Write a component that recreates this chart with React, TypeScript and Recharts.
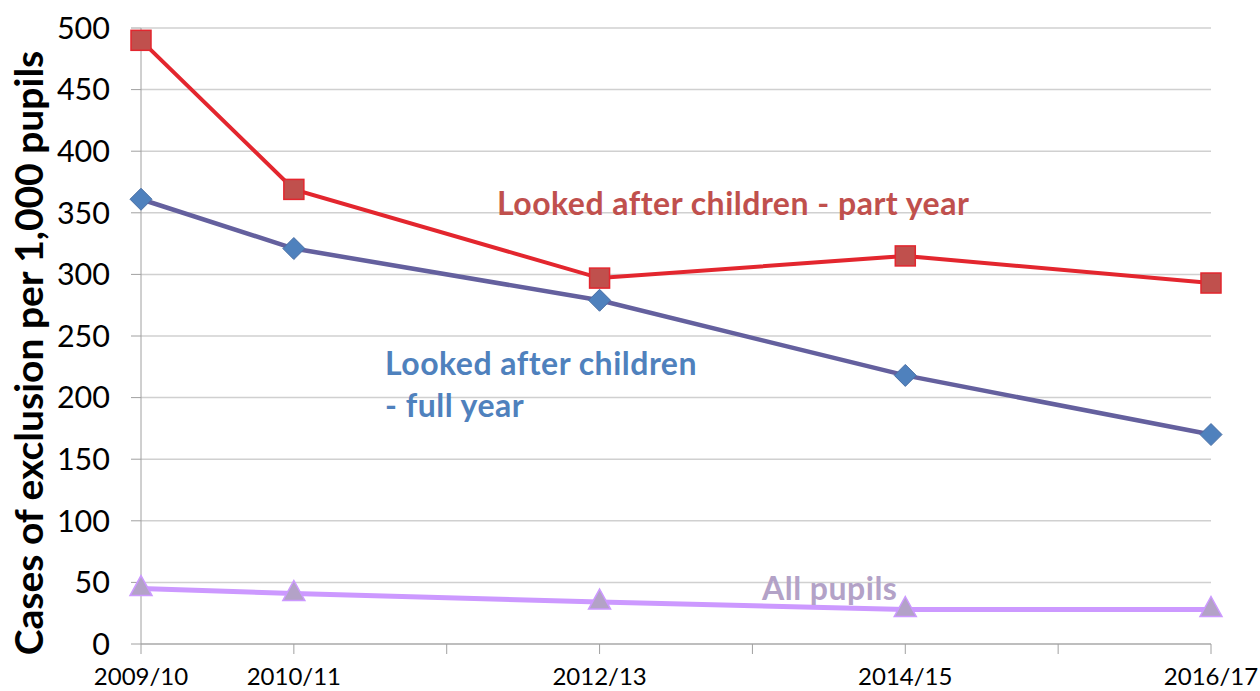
import React from 'react';
import { LineChart, Line, XAxis, YAxis, CartesianGrid } from 'recharts';

// school years on the x axis (only some have data)
const years = ['2009/10', '2010/11', '2011/12', '2012/13', '2013/14', '2014/15', '2015/16', '2016/17'];
const shownYears = ['2009/10', '2010/11', '2012/13', '2014/15', '2016/17'];

// cases of exclusion per 1,000 pupils
const partYear = [490, 369, null, 297, null, 315, null, 293];
const fullYear = [361, 321, null, 279, null, 218, null, 170];
const allPupils = [45, 41, null, 34, null, 28, null, 28];

const yTicks = [0, 50, 100, 150, 200, 250, 300, 350, 400, 450, 500];

const data = years.map((year, i) => ({
  year,
  partYear: partYear[i],
  fullYear: fullYear[i],
  allPupils: allPupils[i]
}));

const FONT = 'Lato, "Open Sans", sans-serif';

const SquareDot = (props: any) => {
  const { cx, cy, index } = props;
  if (cx == null || cy == null || props.value == null) return <g key={`sq-${index}`} />;
  return <rect key={`sq-${index}`} x={cx - 10} y={cy - 10} width={20} height={20} fill="#c0504d" stroke="#e3262e" strokeWidth={1.5} />;
};

const DiamondDot = (props: any) => {
  const { cx, cy, index } = props;
  if (cx == null || cy == null || props.value == null) return <g key={`dm-${index}`} />;
  const r = 11;
  return (
    <polygon
      key={`dm-${index}`}
      points={`${cx},${cy - r} ${cx + r},${cy} ${cx},${cy + r} ${cx - r},${cy}`}
      fill="#4f81bd"
      stroke="#4a6fa5"
      strokeWidth={1}
    />
  );
};

const TriangleDot = (props: any) => {
  const { cx, cy, index } = props;
  if (cx == null || cy == null || props.value == null) return <g key={`tr-${index}`} />;
  return (
    <polygon
      key={`tr-${index}`}
      points={`${cx},${cy - 13} ${cx + 11},${cy + 7} ${cx - 11},${cy + 7}`}
      fill="#b3a2c7"
      stroke="#cc99ff"
      strokeWidth={1.5}
    />
  );
};

const YTitle = (props: any) => {
  const vb = props.viewBox;
  const x = 43;
  const y = vb.y + vb.height / 2 + 17;
  return (
    <text
      x={x}
      y={y}
      transform={`rotate(-90, ${x}, ${y})`}
      textAnchor="middle"
      fontFamily={FONT}
      fontWeight="bold"
      fontSize={39}
      fill="#000"
    >
      Cases of exclusion per 1,000 pupils
    </text>
  );
};

export default function App() {
  return (
    <div style={{ position: 'relative', width: 1260, height: 691, background: '#fff' }}>
      <style>{`body{margin:0}`}</style>
      <LineChart
        width={1260}
        height={691}
        data={data}
        margin={{ top: 28, right: 49, left: 0, bottom: 7 }}
      >
        <CartesianGrid horizontal vertical={false} stroke="#d0d0d0" strokeWidth={1.5} />
        <XAxis
          dataKey="year"
          interval={0}
          height={40}
          tickSize={10}
          tickMargin={14}
          stroke="#a0a0a0"
          tickLine={{ stroke: '#a0a0a0' }}
          tick={{ fill: '#000', fontSize: 24, fontFamily: FONT }}
          tickFormatter={(v: string) => (shownYears.includes(v) ? v : '')}
        />
        <YAxis
          width={141}
          domain={[0, 500]}
          ticks={yTicks}
          interval={0}
          tickSize={10}
          tickMargin={21}
          stroke="#a0a0a0"
          tickLine={{ stroke: '#a0a0a0' }}
          tick={{ fill: '#000', fontSize: 30.5, fontFamily: FONT }}
          label={{ content: YTitle }}
        />
        <Line
          dataKey="fullYear"
          stroke="#64609e"
          strokeWidth={4.5}
          connectNulls
          dot={DiamondDot}
          isAnimationActive={false}
        />
        <Line
          dataKey="allPupils"
          stroke="#cc99ff"
          strokeWidth={5}
          connectNulls
          dot={TriangleDot}
          isAnimationActive={false}
        />
        <Line
          dataKey="partYear"
          stroke="#e3262e"
          strokeWidth={4}
          connectNulls
          dot={SquareDot}
          isAnimationActive={false}
        />
      </LineChart>
      <svg
        width={1260}
        height={691}
        style={{ position: 'absolute', left: 0, top: 0, pointerEvents: 'none' }}
        fontFamily={FONT}
        fontWeight="bold"
        fontSize={32}
        letterSpacing={0.5}
      >
        <text x={497} y={215} fill="#c0504d">Looked after children - part year</text>
        <text x={385} y={375} fill="#4f81bd">Looked after children</text>
        <text x={385} y={417} fill="#4f81bd">- full year</text>
        <text x={762} y={600} fill="#b3a2c7">All pupils</text>
      </svg>
    </div>
  );
}
